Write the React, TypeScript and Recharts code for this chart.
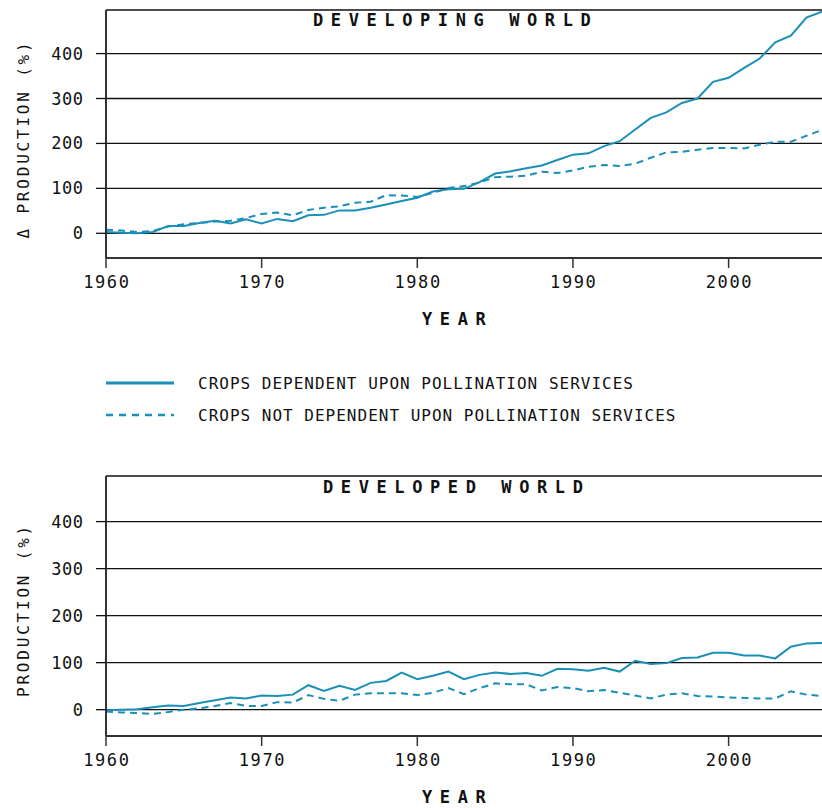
import React from 'react';
import { LineChart, Line, XAxis, YAxis, CartesianGrid } from 'recharts';

const years = [
  1960, 1961, 1962, 1963, 1964, 1965, 1966, 1967, 1968, 1969,
  1970, 1971, 1972, 1973, 1974, 1975, 1976, 1977, 1978, 1979,
  1980, 1981, 1982, 1983, 1984, 1985, 1986, 1987, 1988, 1989,
  1990, 1991, 1992, 1993, 1994, 1995, 1996, 1997, 1998, 1999,
  2000, 2001, 2002, 2003, 2004, 2005, 2006,
];

const developingDependent = [
  3, 1, 0, 3, 16, 16, 23, 28, 22, 31,
  22, 32, 27, 40, 41, 51, 51, 57, 64, 72,
  79, 93, 98, 99, 114, 133, 138, 145, 151, 163,
  175, 178, 194, 205, 231, 257, 269, 290, 300, 337,
  346, 368, 389, 425, 440, 480, 493,
];
const developingNotDependent = [
  8, 6, 3, 5, 15, 20, 23, 26, 28, 34,
  43, 46, 40, 52, 57, 60, 68, 70, 85, 84,
  81, 90, 101, 105, 113, 125, 126, 128, 137, 134,
  140, 148, 152, 150, 155, 168, 180, 181, 186, 190,
  190, 189, 197, 204, 204, 217, 230,
];
const developedDependent = [
  -1, 0, 1, 5, 9, 8, 14, 20, 26, 24,
  30, 29, 32, 52, 40, 51, 42, 57, 61, 79,
  65, 72, 81, 65, 74, 79, 76, 78, 72, 87,
  86, 83, 89, 81, 104, 97, 99, 110, 111, 121,
  121, 115, 115, 109, 134, 141, 142,
];
const developedNotDependent = [
  -4, -6, -7, -9, -5, 0, 3, 8, 14, 8,
  8, 16, 15, 31, 23, 19, 32, 35, 35, 35,
  31, 36, 46, 33, 46, 56, 54, 54, 41, 48,
  46, 39, 42, 36, 30, 24, 32, 35, 29, 28,
  26, 25, 24, 24, 39, 32, 29,
];

const xTicks = [1960, 1970, 1980, 1990, 2000];
const yTicks = [0, 100, 200, 300, 400];

const titleTop = 'DEVELOPING WORLD';
const titleBottom = 'DEVELOPED WORLD';
const yLabelTop = 'Δ PRODUCTION (%)';
const yLabelBottom = 'PRODUCTION (%)';
const xLabel = 'YEAR';
const legendDependent = 'CROPS DEPENDENT UPON POLLINATION SERVICES';
const legendNotDependent = 'CROPS NOT DEPENDENT UPON POLLINATION SERVICES';

const MONO = "'DejaVu Sans Mono', 'Liberation Mono', monospace";
const LINE = '#1a8fb8';
const INK = '#111';

const developingData = years.map((year, i) => ({
  year,
  dep: developingDependent[i],
  non: developingNotDependent[i],
}));
const developedData = years.map((year, i) => ({
  year,
  dep: developedDependent[i],
  non: developedNotDependent[i],
}));

const XTick = (props: any) => {
  const { x, y, payload } = props;
  const ls = 1.6;
  return (
    <text x={x} y={y} dy="0.71em" dx={ls / 2} textAnchor="middle" fill={INK}
      style={{ fontFamily: MONO, fontSize: 17, letterSpacing: ls }}>
      {payload.value}
    </text>
  );
};

const YTick = (props: any) => {
  const { x, y, payload } = props;
  const ls = 0.5;
  return (
    <text x={x} y={y} dy="0.355em" dx={ls} textAnchor="end" fill={INK}
      style={{ fontFamily: MONO, fontSize: 17, letterSpacing: ls }}>
      {payload.value}
    </text>
  );
};

type PanelProps = {
  data: any[];
  top: number;
  plotHeight: number;
  domain: [number, number];
};

const Panel = ({ data, top, plotHeight, domain }: PanelProps) => {
  const height = 340;
  const marginTop = 10;
  const xAxisHeight = height - marginTop - plotHeight;
  return (
    <div style={{ position: 'absolute', left: 0, top }}>
      <LineChart width={822} height={height} data={data}
        margin={{ top: marginTop, right: 0, left: 0, bottom: 0 }}>
        <CartesianGrid vertical={false} stroke={INK} strokeWidth={1.3} />
        <XAxis type="number" dataKey="year" domain={[1960, 2006]} ticks={xTicks}
          allowDataOverflow height={xAxisHeight} tickSize={10} tickMargin={8}
          axisLine={{ stroke: '#333', strokeWidth: 2 }}
          tickLine={{ stroke: '#333', strokeWidth: 1.5 }}
          tick={<XTick />} interval={0} />
        <YAxis type="number" domain={domain} ticks={yTicks} allowDataOverflow
          width={106} tickSize={10} tickMargin={13}
          axisLine={{ stroke: '#333', strokeWidth: 2 }}
          tickLine={{ stroke: INK, strokeWidth: 1.3 }}
          tick={<YTick />} interval={0} />
        <Line type="linear" dataKey="non" stroke={LINE} strokeWidth={2}
          strokeDasharray="7 5" dot={false} isAnimationActive={false} />
        <Line type="linear" dataKey="dep" stroke={LINE} strokeWidth={2}
          dot={false} isAnimationActive={false} />
      </LineChart>
    </div>
  );
};

const boldStyle = { fontFamily: MONO, fontSize: 17, fontWeight: 700, letterSpacing: 7.6 };
const labelStyle = { fontFamily: MONO, fontSize: 16, letterSpacing: 2.8 };
const legendStyle = { fontFamily: MONO, fontSize: 16, letterSpacing: 1 };

export default function App() {
  return (
    <div style={{ position: 'absolute', left: 0, top: 0, width: 822, height: 808, background: '#fff' }}>
      <Panel data={developingData} top={0} plotHeight={248} domain={[-55, 497]} />
      <Panel data={developedData} top={466} plotHeight={260} domain={[-56, 497]} />
      <svg width={822} height={808} style={{ position: 'absolute', left: 0, top: 0, pointerEvents: 'none' }}>
        <text x={313} y={26} fill={INK} style={boldStyle}>{titleTop}</text>
        <text x={323} y={493} fill={INK} style={boldStyle}>{titleBottom}</text>
        <text x={422} y={325} fill={INK} style={boldStyle}>{xLabel}</text>
        <text x={422} y={803} fill={INK} style={boldStyle}>{xLabel}</text>
        <text x={28} y={139} dy={1.4} textAnchor="middle" fill={INK} style={labelStyle}
          transform="rotate(-90 28 139)">{yLabelTop}</text>
        <text x={28} y={610} dy={1.4} textAnchor="middle" fill={INK} style={labelStyle}
          transform="rotate(-90 28 610)">{yLabelBottom}</text>
        <line x1={106} x2={174} y1={383} y2={383} stroke={LINE} strokeWidth={3} />
        <line x1={106} x2={174} y1={415} y2={415} stroke={LINE} strokeWidth={2.5} strokeDasharray="7 6" />
        <text x={198} y={389} fill={INK} style={legendStyle}>{legendDependent}</text>
        <text x={198} y={421} fill={INK} style={legendStyle}>{legendNotDependent}</text>
      </svg>
    </div>
  );
}
